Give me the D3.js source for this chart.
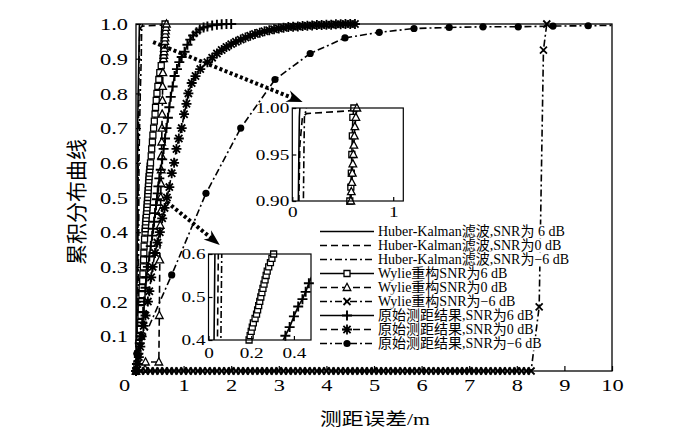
<!DOCTYPE html>
<meta charset="utf-8">
<script src="https://d3js.org/d3.v7.min.js"></script>
<style>
  body { margin: 0; background: #fff; }
  text { font-family: "Liberation Serif", "Noto Sans CJK SC", serif; fill: #000; }
</style>
<div id="chart"></div>
<script>
// ---- data: [ranging error (m), CDF] ----
const huber6 = [[0,0],[0.005,0.02],[0.012,0.1],[0.018,0.2],[0.022,0.3],[0.026,0.4],[0.028,0.5],[0.03,0.6],[0.036,0.7],[0.045,0.8],[0.06,0.9],[0.065,0.95],[0.07,0.99],[0.075,1]];
const huber0 = [[0,0],[0.01,0.02],[0.025,0.1],[0.032,0.2],[0.038,0.3],[0.042,0.4],[0.044,0.5],[0.046,0.6],[0.052,0.7],[0.058,0.8],[0.065,0.9],[0.075,0.96],[0.1,0.99],[0.14,0.994],[0.57,0.997],[0.6,1]];
const huberN6 = [[0,0],[0.015,0.02],[0.035,0.1],[0.045,0.2],[0.052,0.3],[0.058,0.4],[0.06,0.5],[0.062,0.6],[0.075,0.7],[0.09,0.8],[0.11,0.9],[0.115,0.95],[0.12,0.99],[0.14,1]];

const wylie6 = [[0,0],[0.02,0.02],[0.04,0.05],[0.06,0.08],[0.08,0.1],[0.09,0.12],[0.1,0.14],[0.105,0.16],[0.11,0.18],[0.12,0.2],
  [0.125,0.22],[0.13,0.24],[0.14,0.26],[0.145,0.28],[0.155,0.3],[0.16,0.32],[0.165,0.34],[0.17,0.36],[0.18,0.38],
  [0.19,0.4],[0.195,0.41],[0.2,0.42],[0.205,0.43],[0.21,0.44],[0.218,0.45],[0.225,0.46],[0.23,0.47],[0.235,0.48],[0.24,0.49],
  [0.245,0.5],[0.25,0.51],[0.255,0.52],[0.26,0.53],[0.265,0.54],[0.27,0.55],[0.275,0.56],[0.282,0.57],[0.29,0.58],[0.297,0.59],
  [0.305,0.6],[0.32,0.62],[0.33,0.64],[0.345,0.66],[0.355,0.68],[0.37,0.7],[0.385,0.72],[0.4,0.74],[0.41,0.76],[0.425,0.78],
  [0.44,0.8],[0.46,0.82],[0.48,0.84],[0.5,0.86],[0.53,0.88],[0.57,0.9],[0.58,0.915],[0.585,0.93],[0.59,0.95],[0.595,0.97],
  [0.6,0.99],[0.61,1]];
const wylie0 = [[0,0],[0.19,0.005],[0.2,0.026],[0.48,0.026],[0.49,0.16],[0.5,0.32],[0.51,0.42],[0.515,0.46],[0.52,0.5],
  [0.525,0.54],[0.53,0.58],[0.535,0.62],[0.54,0.66],[0.545,0.7],[0.55,0.74],[0.555,0.78],[0.56,0.82],[0.565,0.86],[0.58,0.9],
  [0.585,0.91],[0.59,0.92],[0.595,0.93],[0.6,0.94],[0.605,0.95],[0.61,0.96],[0.615,0.97],[0.62,0.98],[0.63,0.99],[0.64,1]];
const wylieN6 = [[0,0],[0.1,0],[0.2,0],[0.3,0],[0.4,0],[0.5,0],[0.6,0],[0.7,0],[0.8,0],[0.9,0],
  [1,0],[1.1,0],[1.2,0],[1.3,0],[1.4,0],[1.5,0],[1.6,0],[1.7,0],[1.8,0],[1.9,0],
  [2,0],[2.1,0],[2.2,0],[2.3,0],[2.4,0],[2.5,0],[2.6,0],[2.7,0],[2.8,0],[2.9,0],
  [3,0],[3.1,0],[3.2,0],[3.3,0],[3.4,0],[3.5,0],[3.6,0],[3.7,0],[3.8,0],[3.9,0],
  [4,0],[4.1,0],[4.2,0],[4.3,0],[4.4,0],[4.5,0],[4.6,0],[4.7,0],[4.8,0],[4.9,0],
  [5,0],[5.1,0],[5.2,0],[5.3,0],[5.4,0],[5.5,0],[5.6,0],[5.7,0],[5.8,0],[5.9,0],
  [6,0],[6.1,0],[6.2,0],[6.3,0],[6.4,0],[6.5,0],[6.6,0],[6.7,0],[6.8,0],[6.9,0],
  [7,0],[7.1,0],[7.2,0],[7.3,0],[7.4,0],[7.5,0],[7.6,0],[7.7,0],[7.8,0],[7.9,0],
  [8,0],[8.1,0],[8.2,0],[8.3,0],[8.47,0.185],[8.56,0.925],[8.63,1]];

const raw6 = [[0,0],[0.02,0.02],[0.05,0.05],[0.08,0.08],[0.1,0.1],[0.13,0.14],[0.15,0.17],[0.17,0.2],[0.2,0.24],[0.22,0.27],
  [0.25,0.3],[0.28,0.33],[0.31,0.36],[0.34,0.39],[0.36,0.41],[0.38,0.43],[0.4,0.455],[0.42,0.478],[0.44,0.495],[0.455,0.512],
  [0.47,0.532],[0.49,0.555],[0.52,0.58],[0.55,0.61],[0.58,0.64],[0.61,0.67],[0.64,0.7],[0.67,0.73],[0.7,0.76],[0.73,0.79],
  [0.77,0.82],[0.81,0.85],[0.86,0.87],[0.91,0.89],[0.96,0.905],[1.02,0.92],[1.08,0.94],[1.14,0.955],[1.2,0.967],[1.27,0.976],
  [1.34,0.984],[1.42,0.99],[1.5,0.993],[1.6,0.996],[1.7,0.998],[1.8,0.999],[1.9,1],[2,1]];
const raw0 = [[0,0],[0.03,0.02],[0.06,0.04],[0.09,0.07],[0.12,0.1],[0.16,0.13],[0.2,0.16],[0.25,0.2],[0.28,0.23],[0.32,0.27],
  [0.35,0.3],[0.4,0.34],[0.45,0.37],[0.5,0.4],[0.55,0.44],[0.6,0.47],[0.65,0.5],[0.7,0.53],[0.75,0.57],[0.8,0.6],
  [0.85,0.64],[0.9,0.67],[0.96,0.7],[1.01,0.74],[1.06,0.77],[1.1,0.8],[1.17,0.83],[1.25,0.85],[1.35,0.87],[1.5,0.89],
  [1.6,0.903],[1.7,0.915],[1.8,0.925],[1.9,0.934],[2,0.942],[2.1,0.949],[2.2,0.955],[2.3,0.961],[2.4,0.966],[2.5,0.971],
  [2.6,0.975],[2.7,0.979],[2.8,0.982],[2.9,0.985],[3,0.987],[3.1,0.989],[3.2,0.991],[3.3,0.992],[3.4,0.993],[3.5,0.994],
  [3.6,0.995],[3.7,0.996],[3.8,0.997],[3.9,0.997],[4,0.998],[4.1,0.998],[4.2,0.999],[4.3,0.999],[4.4,1],[4.5,1],[4.6,1]];
const rawN6 = [[0.02,0.05],[0.75,0.277],[1.47,0.512],[2.2,0.7],[2.92,0.84],[3.66,0.915],[4.39,0.96],[5.11,0.976],
  [5.84,0.987],[6.58,0.99],[7.29,0.992],[8.03,0.992],[8.76,0.994],[9.5,0.995],[10,0.996]];

const legendLabels = [
  "Huber-Kalman滤波,SNR为 6 dB", "Huber-Kalman滤波,SNR为0 dB", "Huber-Kalman滤波,SNR为−6 dB",
  "Wylie重构SNR为6 dB", "Wylie重构SNR为0 dB", "Wylie重构SNR为−6 dB",
  "原始测距结果,SNR为6 dB", "原始测距结果,SNR为0 dB", "原始测距结果,SNR为−6 dB"];

const xTicks = [0,1,2,3,4,5,6,7,8,9,10];
const yTicks = [0.1,0.2,0.3,0.4,0.5,0.6,0.7,0.8,0.9,1.0];
const inset1XTicks = [0,1], inset1YTicks = [0.9,0.95,1.0];
const inset2XTicks = [0,0.2,0.4], inset2YTicks = [0.4,0.5,0.6];

// ---- styles ----
const DASH = "7,4", DASHDOT = "7,3,2,3";
const series = [
  {label: legendLabels[0], data: huber6, dash: null, mark: null},
  {label: legendLabels[1], data: huber0, dash: DASH, mark: null},
  {label: legendLabels[2], data: huberN6, dash: DASHDOT, mark: null},
  {label: legendLabels[3], data: wylie6, dash: null, mark: "square"},
  {label: legendLabels[4], data: wylie0, dash: DASH, mark: "triangle"},
  {label: legendLabels[5], data: wylieN6, dash: DASHDOT, mark: "times"},
  {label: legendLabels[6], data: raw6, dash: null, mark: "plus"},
  {label: legendLabels[7], data: raw0, dash: DASH, mark: "star"},
  {label: legendLabels[8], data: rawN6, dash: DASHDOT, mark: "dot"}
];

const markPaths = {
  square: "M-3,-3H3V3H-3Z",
  triangle: "M0,-4.2L3.8,3L-3.8,3Z",
  times: "M-3.5,-3.5L3.5,3.5M-3.5,3.5L3.5,-3.5",
  plus: "M-5,0H5M0,-5V5",
  star: "M-5,0H5M0,-5V5M-3.6,-3.6L3.6,3.6M-3.6,3.6L3.6,-3.6"
};
const markWidth = {square: 1.3, triangle: 1.3, times: 1.8, plus: 1.9, star: 1.8};

function drawMark(g, type, px, py) {
  if (type === "dot") {
    g.append("circle").attr("cx", px).attr("cy", py).attr("r", 3.6).attr("fill", "#000");
  } else {
    g.append("path").attr("d", markPaths[type])
      .attr("transform", `translate(${px},${py})`)
      .attr("fill", (type === "square" || type === "triangle") ? "#fff" : "none")
      .attr("stroke", "#000").attr("stroke-width", markWidth[type]);
  }
}

// stretch text horizontally like the original figure
function widen(sel, k) {
  sel.each(function() {
    const w = this.getComputedTextLength();
    d3.select(this).attr("textLength", w * k).attr("lengthAdjust", "spacingAndGlyphs");
  });
}

const svg = d3.select("#chart").append("svg").attr("width", 700).attr("height", 430);

const x = d3.scaleLinear().domain([0, 10]).range([136, 612]);
const y = d3.scaleLinear().domain([0, 1]).range([371, 24]);

function plotSeries(g, list, sx, sy, clipId) {
  const xd = sx.domain(), yd = sy.domain();
  const line = d3.line().x(d => sx(d[0])).y(d => sy(d[1]));
  list.forEach(s => {
    const p = g.append("path").datum(s.data)
      .attr("d", line).attr("fill", "none")
      .attr("stroke", "#000").attr("stroke-width", 1.6)
      .attr("stroke-dasharray", s.dash);
    if (clipId) p.attr("clip-path", `url(#${clipId})`);
  });
  list.forEach(s => {
    if (!s.mark) return;
    const mg = g.append("g");
    s.data.filter(d => d[0] >= xd[0] && d[0] < xd[1] && d[1] >= yd[0] && d[1] <= yd[1])
      .forEach(d => drawMark(mg, s.mark, sx(d[0]), sy(d[1])));
  });
}

function styleAxis(g, size) {
  g.attr("font-family", null).attr("font-size", size);
  g.select(".domain").remove();
  g.selectAll(".tick line").attr("stroke", "#000").attr("stroke-width", 1.2);
  g.selectAll(".tick text").attr("fill", "#000");
}

// ---- main plot ----
const main = svg.append("g");
plotSeries(main, series, x, y, null);

main.append("rect")
  .attr("x", x(0)).attr("y", y(1))
  .attr("width", x(10) - x(0)).attr("height", y(0) - y(1))
  .attr("fill", "none").attr("stroke", "#000").attr("stroke-width", 1.3);

const gx = svg.append("g").attr("transform", `translate(0,${y(0)})`)
  .call(d3.axisBottom(x).tickValues(xTicks).tickSize(-5).tickPadding(8).tickFormat(d3.format("d")));
styleAxis(gx, 17.5);
gx.selectAll(".tick text").filter(d => d === 0).attr("x", -12);
widen(gx.selectAll(".tick text"), 1.28);

const gy = svg.append("g").attr("transform", `translate(${x(0)},0)`)
  .call(d3.axisLeft(y).tickValues(yTicks).tickSize(-5).tickPadding(8).tickFormat(d3.format(".1f")));
styleAxis(gy, 17.5);
widen(gy.selectAll(".tick text"), 1.28);

const xt = svg.append("text").attr("x", 375).attr("y", 425)
  .attr("text-anchor", "middle").attr("font-size", 17).text("测距误差/m");
widen(xt, 1.28);

svg.append("text").attr("transform", "translate(77,202) rotate(-90)")
  .attr("text-anchor", "middle").attr("dominant-baseline", "central")
  .attr("font-size", 21).text("累积分布曲线");

// ---- zoom arrows ----
const arrows = [{from: [0.36, 0.948], to: [3.5, 0.775]}, {from: [0.65, 0.487], to: [1.76, 0.363]}];
arrows.forEach(a => {
  const x1 = x(a.from[0]), y1 = y(a.from[1]), x2 = x(a.to[0]), y2 = y(a.to[1]);
  const ang = Math.atan2(y2 - y1, x2 - x1);
  svg.append("line")
    .attr("x1", x1).attr("y1", y1)
    .attr("x2", x2 - 10 * Math.cos(ang)).attr("y2", y2 - 10 * Math.sin(ang))
    .attr("stroke", "#000").attr("stroke-width", 4).attr("stroke-dasharray", "3,2.5");
  svg.append("path").attr("d", "M0,0L-16,-6L-11,0L-16,6Z")
    .attr("transform", `translate(${x2},${y2}) rotate(${ang * 180 / Math.PI})`)
    .attr("fill", "#000");
});

// ---- insets ----
const insets = [
  {id: "inset1", box: [292.3, 403.3, 108, 201], xDom: [0, 1.1], yDom: [0.9, 1.0],
   xt: inset1XTicks, yt: inset1YTicks, fx: d3.format("d"), fy: d3.format(".2f"), lab: 16,
   list: series.slice(0, 5)},
  {id: "inset2", box: [208.5, 311, 254, 340], xDom: [0, 0.48], yDom: [0.4, 0.6],
   xt: inset2XTicks, yt: inset2YTicks, fx: d => d === 0 ? "0" : d3.format(".1f")(d), fy: d3.format(".1f"), lab: 18,
   list: series}
];
insets.forEach(ins => {
  const [bx0, bx1, by0, by1] = ins.box;
  const sx = d3.scaleLinear().domain(ins.xDom).range([bx0, bx1]);
  const sy = d3.scaleLinear().domain(ins.yDom).range([by1, by0]);
  const g = svg.append("g");
  g.append("clipPath").attr("id", ins.id + "-clip").append("rect")
    .attr("x", bx0).attr("y", by0).attr("width", bx1 - bx0).attr("height", by1 - by0);
  g.append("rect").attr("x", bx0).attr("y", by0).attr("width", bx1 - bx0).attr("height", by1 - by0)
    .attr("fill", "#fff");
  plotSeries(g, ins.list, sx, sy, ins.id + "-clip");
  g.append("rect").attr("x", bx0).attr("y", by0).attr("width", bx1 - bx0).attr("height", by1 - by0)
    .attr("fill", "none").attr("stroke", "#000").attr("stroke-width", 1.2);

  const ax = g.append("g").attr("transform", `translate(0,${by1})`)
    .call(d3.axisBottom(sx).tickValues(ins.xt).tickSize(-4).tickPadding(ins.lab - 11).tickFormat(ins.fx));
  styleAxis(ax, 15);
  widen(ax.selectAll(".tick text"), 1.28);
  const ay = g.append("g").attr("transform", `translate(${bx0},0)`)
    .call(d3.axisLeft(sy).tickValues(ins.yt).tickSize(-4).tickPadding(3).tickFormat(ins.fy));
  styleAxis(ay, 15);
  widen(ay.selectAll(".tick text"), 1.28);
});

// ---- legend ----
const legend = svg.append("g");
series.forEach((s, i) => {
  const cy = 231.5 + i * 14;
  const row = legend.append("g");
  const bg = row.append("rect");
  const t = row.append("text").attr("x", 378).attr("y", cy)
    .attr("dominant-baseline", "central").attr("font-size", 14).text(s.label);
  const w = t.node().getComputedTextLength();
  bg.attr("x", 376).attr("y", cy - 7).attr("width", w + 3).attr("height", 14).attr("fill", "#fff");
  row.append("line").attr("x1", 320).attr("x2", 374).attr("y1", cy).attr("y2", cy)
    .attr("stroke", "#000").attr("stroke-width", 1.6).attr("stroke-dasharray", s.dash);
  if (s.mark) drawMark(row, s.mark, 347, cy);
});
</script>
